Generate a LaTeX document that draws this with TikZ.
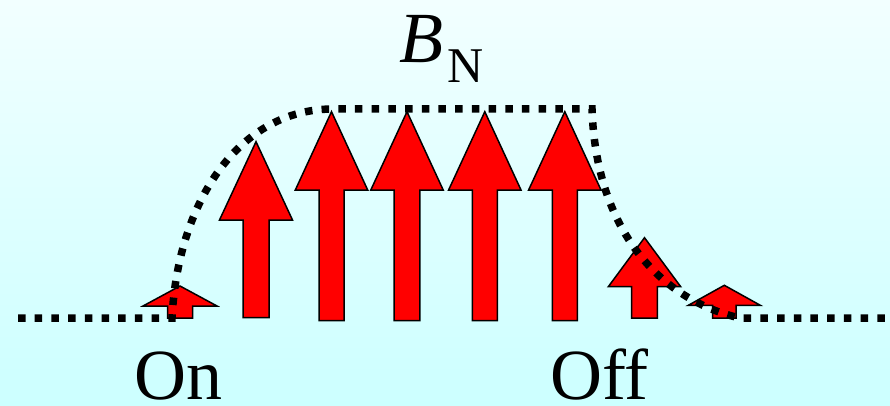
\documentclass[tikz,border=0pt]{standalone}
\usepackage{fontspec}
\setmainfont{Liberation Serif}
\definecolor{bgtop}{RGB}{242,255,255}
\definecolor{bgbot}{RGB}{204,255,255}
\definecolor{arrred}{RGB}{255,0,0}
\newcommand\redarrow[6]{% cx, bottom, shaft half, head base y, head half, tip y
  \filldraw[arr] (#1-#3,#2) -- (#1-#3,#4) -- (#1-#5,#4) -- (#1,#6) -- (#1+#5,#4) -- (#1+#3,#4) -- (#1+#3,#2) -- cycle;}
\begin{document}
\begin{tikzpicture}[x=1pt,y=-1pt,
  arr/.style={fill=arrred,draw=black,line width=1.5pt,line join=miter},
  field/.style={line width=7.5pt,dash pattern=on 7.5pt off 9.2pt,black},
  lbl/.style={inner sep=0pt,anchor=base west,font=\fontsize{72}{80}\selectfont}]
\shade[top color=bgtop,bottom color=bgbot] (0,0) rectangle (890,406);
\useasboundingbox (0,0) rectangle (890,406);
% arrows
\redarrow{180}{318}{12.5}{306}{37}{286}
\redarrow{256}{317.5}{13}{220}{36.5}{141.7}
\redarrow{331.5}{320.5}{12.5}{190}{36.2}{111.7}
\redarrow{407}{320.5}{12.8}{190}{36.2}{111.7}
\redarrow{484.8}{320.5}{12.5}{190}{36.2}{111.7}
\redarrow{564.8}{320.5}{12.5}{190}{36.2}{111.7}
\redarrow{644.5}{318}{12.8}{286.7}{36.2}{237.7}
\redarrow{724.3}{318}{11.7}{305.3}{36}{285.3}
% field profile
\coordinate (s) at (18,318);
\coordinate (on) at (172,318);
\coordinate (tl) at (333,109);
\coordinate (tr) at (592,109);
\coordinate (off) at (740,318);
\coordinate (e) at (890,318);
\draw[field] (s) -- (on) .. controls (178,200) and (240,109) .. (tl) -- (tr)
  .. controls (596,230) and (660,300) .. (off) -- (e);
% labels
\node[lbl] (lon) at (134,399) {On};
\node[lbl] (loff) at (550,399) {Off};
\node[lbl,font=\fontsize{72}{80}\selectfont\itshape] (b) at (399,63) {B};
\node[inner sep=0pt,anchor=base west,font=\fontsize{50}{60}\selectfont] (n) at (447,83) {N};
\end{tikzpicture}
\end{document}
